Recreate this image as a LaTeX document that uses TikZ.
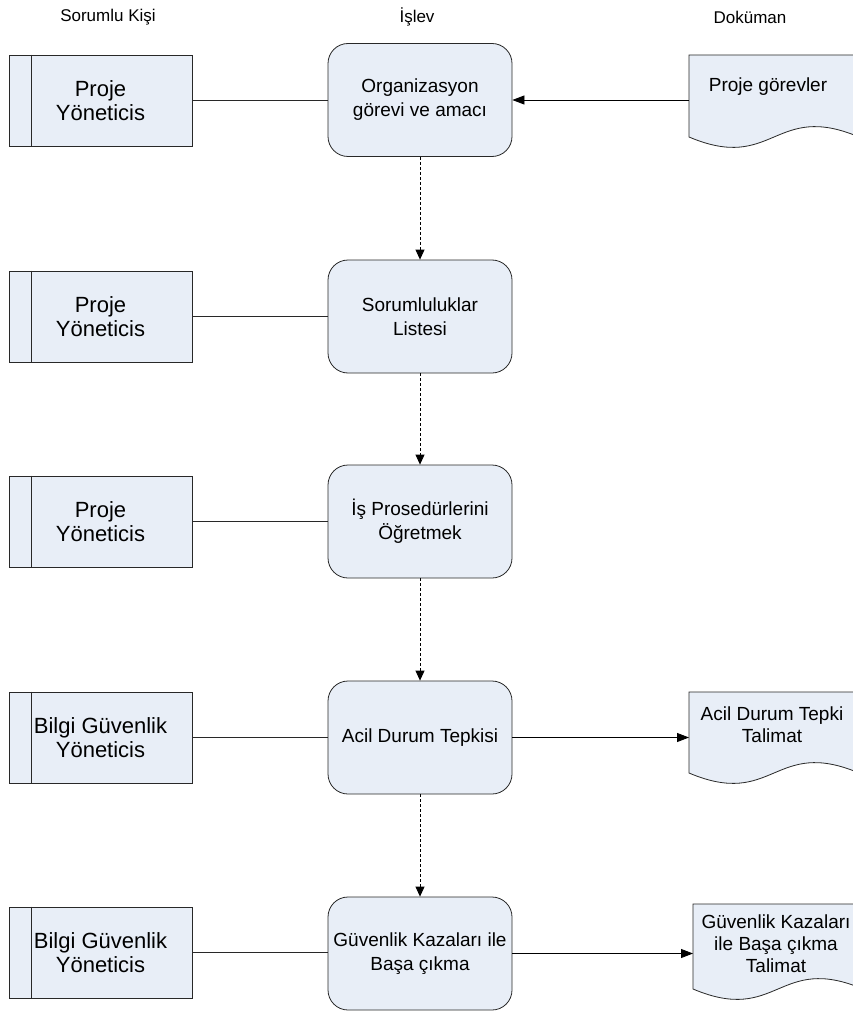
\documentclass[tikz,border=0pt]{standalone}
\usepackage{fontspec}
\setmainfont{Liberation Sans}
\usetikzlibrary{arrows.meta}
\definecolor{boxfill}{RGB}{232,238,247}
\definecolor{boxline}{RGB}{40,40,40}

% document symbol with a wavy lower edge: x, top, wave base, width
\newcommand\docsymbol[4]{%
  \draw[link, fill=boxfill] (#1,#2) -- ({#1+#4},#2) -- ({#1+#4},#3)
    .. controls ({#1+#4/2},{#3-36}) and ({#1+#4/2},{#3+36}) .. (#1,#3) -- cycle;}

\begin{document}
\begin{tikzpicture}[x=1pt,y=-1pt,
  link/.style={line width=0.8pt, draw=boxline},
  person/.style={link, fill=boxfill, rectangle, minimum width=183pt, minimum height=91pt,
    inner sep=0pt, align=center, font=\fontsize{22}{24}\selectfont},
  task/.style={link, fill=boxfill, rounded corners=20pt, minimum width=184pt, minimum height=113pt,
    inner sep=0pt, align=center, font=\fontsize{19}{24}\selectfont},
  docarea/.style={minimum width=170pt, anchor=north west, inner sep=0pt},
  doctext/.style={align=center, font=\fontsize{19}{22}\selectfont, inner sep=0pt},
  head/.style={font=\fontsize{17}{20}\selectfont, inner sep=0pt},
  flow/.style={line width=0.8pt, dash pattern=on 3pt off 2pt, -{Triangle[length=10pt,width=9pt]}},
  feed/.style={line width=0.8pt, -{Triangle[length=12pt,width=9pt]}},
]
\useasboundingbox (0,0) rectangle (853,1011);
\clip (0,0) rectangle (853,1011);

% column headings
\node[head] (h1) at (108,17) {Sorumlu Kişi};
\node[head] (h2) at (417,17) {İşlev};
\node[head] (h3) at (750,17) {Doküman};

% responsible persons
\node[person] (p1) at (100.5,100.5) {Proje\\Yöneticis};
\node[person] (p2) at (100.5,316.5) {Proje\\Yöneticis};
\node[person] (p3) at (100.5,521.5) {Proje\\Yöneticis};
\node[person] (p4) at (100.5,737.5) {Bilgi Güvenlik\\Yöneticis};
\node[person] (p5) at (100.5,952.5) {Bilgi Güvenlik\\Yöneticis};
\foreach \p in {p1,p2,p3,p4,p5}
  \draw[link] ([xshift=23pt]\p.north west) -- ([xshift=23pt]\p.south west);

% functions
\node[task] (t1) at (420,100) {Organizasyon\\görevi ve amacı};
\node[task] (t2) at (420,316.5) {Sorumluluklar\\Listesi};
\node[task] (t3) at (420,521.5) {İş Prosedürlerini\\Öğretmek};
\node[task] (t4) at (420,737.5) {Acil Durum Tepkisi};
\node[task] (t5) at (420,953.5) {Güvenlik Kazaları ile\\Başa çıkma};

% documents
\docsymbol{689}{55}{137}{170}
\docsymbol{689}{692}{773}{170}
\docsymbol{693}{904}{989}{170}
\node[docarea, minimum height=82pt] (d1) at (689,55) {};
\node[docarea, minimum height=81pt] (d4) at (689,692) {};
\node[docarea, minimum height=85pt] (d5) at (693,904) {};
\node[doctext] (dt1) at (768,87) {Proje görevler};
\node[doctext] (dt4) at (772,725) {Acil Durum Tepki\\Talimat};
\node[doctext] (dt5) at (776,944) {Güvenlik Kazaları\\ile Başa çıkma\\Talimat};

% person to function links
\foreach \i in {1,...,5}
  \draw[link] (p\i.east) -- (p\i.east -| t\i.west);

% process flow
\draw[flow] (t1.south) -- (t2.north);
\draw[flow] (t2.south) -- (t3.north);
\draw[flow] (t3.south) -- (t4.north);
\draw[flow] (t4.south) -- (t5.north);

% document links
\draw[feed] (t1.east -| d1.west) -- (t1.east);
\draw[feed] (t4.east) -- (t4.east -| d4.west);
\draw[feed] (t5.east) -- (t5.east -| d5.west);
\end{tikzpicture}
\end{document}
